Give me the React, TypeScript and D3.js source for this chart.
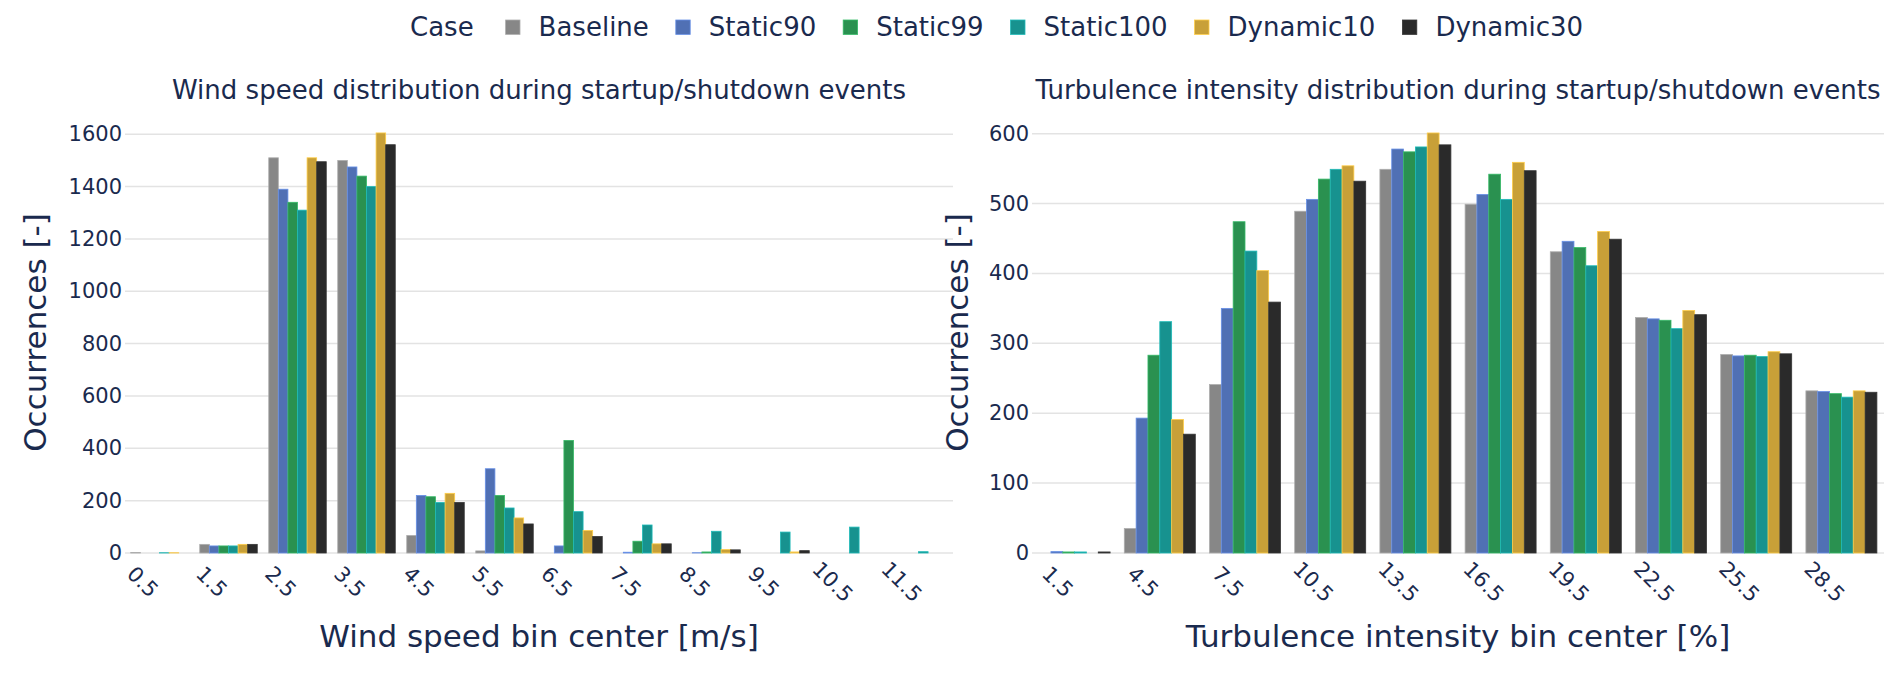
import React from "react";
import * as d3 from "d3";

const cases = ["Baseline", "Static90", "Static99", "Static100", "Dynamic10", "Dynamic30"];
const caseColors = ["#878787", "#5070b4", "#2a9150", "#17928f", "#c8a038", "#2a2a2a"];

const windBins = ["0.5", "1.5", "2.5", "3.5", "4.5", "5.5", "6.5", "7.5", "8.5", "9.5", "10.5", "11.5"];
const windBaseline = [2, 33, 1510, 1500, 67, 8, 0, 0, 0, 0, 0, 0];
const windStatic90 = [0, 27, 1390, 1475, 220, 322, 27, 3, 1, 0, 0, 0];
const windStatic99 = [0, 27, 1340, 1440, 215, 220, 430, 45, 4, 0, 0, 0];
const windStatic100 = [1, 27, 1310, 1400, 193, 172, 158, 107, 83, 80, 99, 5];
const windDynamic10 = [1, 33, 1510, 1605, 228, 134, 86, 35, 13, 4, 0, 0];
const windDynamic30 = [0, 33, 1495, 1560, 193, 111, 63, 35, 12, 9, 0, 0];
const windTicks = [0, 200, 400, 600, 800, 1000, 1200, 1400, 1600];

const tiBins = ["1.5", "4.5", "7.5", "10.5", "13.5", "16.5", "19.5", "22.5", "25.5", "28.5"];
const tiBaseline = [0, 35, 241, 489, 549, 499, 431, 337, 284, 232];
const tiStatic90 = [2, 193, 350, 506, 578, 513, 446, 335, 282, 231];
const tiStatic99 = [1.5, 283, 474, 535, 574, 542, 437, 333, 283, 228];
const tiStatic100 = [1.5, 331, 432, 549, 581, 506, 411, 321, 281, 223];
const tiDynamic10 = [0, 191, 404, 554, 601, 559, 460, 347, 288, 232];
const tiDynamic30 = [1.5, 170, 359, 532, 584, 547, 449, 341, 285, 230];
const tiTicks = [0, 100, 200, 300, 400, 500, 600];

const windSeries = [windBaseline, windStatic90, windStatic99, windStatic100, windDynamic10, windDynamic30];
const tiSeries = [tiBaseline, tiStatic90, tiStatic99, tiStatic100, tiDynamic10, tiDynamic30];

const W = 1892;
const H = 676;
const textColor = "#1a2a4e";
const font = "DejaVu Sans";

type PanelProps = {
    left: number;
    right: number;
    bins: string[];
    series: number[][];
    ticks: number[];
    yMax: number;
    title: string;
    xLabel: string;
    yLabelX: number;
};

const top = 112;
const bottom = 553;

const edge = (c: string) => d3.color(c)!.brighter(0.7).formatHex();

const Panel = ({ left, right, bins, series, ticks, yMax, title, xLabel, yLabelX }: PanelProps) => {
    const x = d3.scaleBand().domain(bins).range([left, right]).padding(0);
    const inner = d3
        .scaleBand()
        .domain(cases)
        .range([0, x.bandwidth()])
        .paddingOuter(0.6)
        .paddingInner(0);
    const y = d3.scaleLinear().domain([0, yMax]).range([bottom, top]);
    const cx = (left + right) / 2;

    return (
        <g>
            {ticks.map((t) => (
                <g key={t}>
                    <line x1={left} x2={right} y1={y(t)} y2={y(t)} stroke="#e3e3e3" strokeWidth={1.5} />
                    <text
                        x={left - 3}
                        y={y(t)}
                        textAnchor="end"
                        dominantBaseline="central"
                        fontSize={21}
                        fill={textColor}
                    >
                        {t}
                    </text>
                </g>
            ))}
            {series.map((vals, si) =>
                vals.map((v, bi) => {
                    const bx = (x(bins[bi]) || 0) + (inner(cases[si]) || 0);
                    const h = bottom - y(v);
                    if (h <= 0) return null;
                    return (
                        <rect
                            key={`${si}-${bi}`}
                            x={bx}
                            y={y(v)}
                            width={inner.bandwidth()}
                            height={h}
                            fill={caseColors[si]}
                            stroke={edge(caseColors[si])}
                            strokeWidth={0.8}
                        />
                    );
                })
            )}
            {bins.map((b) => {
                const px = (x(b) || 0) + x.bandwidth() / 2 - 17;
                return (
                    <text
                        key={b}
                        transform={`translate(${px},${bottom + 29}) rotate(45)`}
                        textAnchor="middle"
                        dominantBaseline="central"
                        fontSize={21}
                        fill={textColor}
                    >
                        {b}
                    </text>
                );
            })}
            <text x={cx} y={99} textAnchor="middle" fontSize={26} fill={textColor}>
                {title}
            </text>
            <text x={cx} y={647} textAnchor="middle" fontSize={31} fill={textColor}>
                {xLabel}
            </text>
            <text
                transform={`translate(${yLabelX},${(top + bottom) / 2}) rotate(-90)`}
                textAnchor="middle"
                dominantBaseline="central"
                fontSize={31}
                fill={textColor}
            >
                Occurrences [-]
            </text>
        </g>
    );
};

const legendMarkerX = [505.6, 675.8, 843.2, 1010.6, 1194.6, 1402.4];

export default function App() {
    return (
        <svg
            width={W}
            height={H}
            style={{ position: "absolute", left: 0, top: 0, background: "#fff" }}
            fontFamily={font}
        >
            <text x={410} y={27} dominantBaseline="central" fontSize={26} fill={textColor}>
                Case
            </text>
            {cases.map((c, i) => (
                <g key={c}>
                    <rect
                        x={legendMarkerX[i]}
                        y={20}
                        width={14.4}
                        height={14.4}
                        fill={caseColors[i]}
                        stroke={edge(caseColors[i])}
                        strokeWidth={0.8}
                    />
                    <text
                        x={legendMarkerX[i] + 33}
                        y={27}
                        dominantBaseline="central"
                        fontSize={26}
                        fill={textColor}
                    >
                        {c}
                    </text>
                </g>
            ))}
            <Panel
                left={125}
                right={953}
                bins={windBins}
                series={windSeries}
                ticks={windTicks}
                yMax={1685}
                title="Wind speed distribution during startup/shutdown events"
                xLabel="Wind speed bin center [m/s]"
                yLabelX={35}
            />
            <Panel
                left={1032}
                right={1884}
                bins={tiBins}
                series={tiSeries}
                ticks={tiTicks}
                yMax={631}
                title="Turbulence intensity distribution during startup/shutdown events"
                xLabel="Turbulence intensity bin center [%]"
                yLabelX={957}
            />
        </svg>
    );
}
